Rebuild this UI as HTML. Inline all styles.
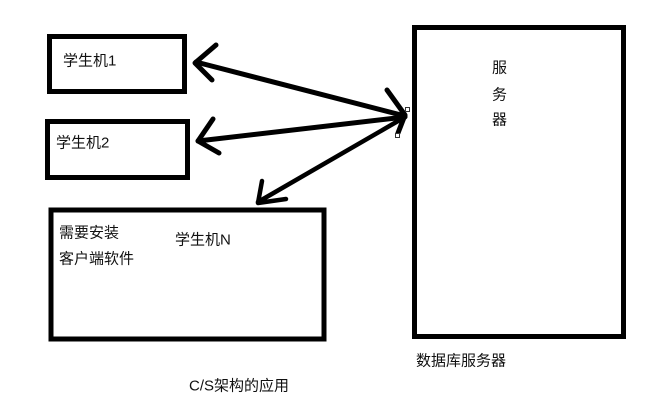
<!DOCTYPE html>
<html lang="zh">
<head>
<meta charset="utf-8">
<title>C/S架构的应用</title>
<style>
html,body{margin:0;padding:0;background:#fff;width:658px;height:408px;overflow:hidden}
svg{display:block}
text{font-family:"Liberation Sans","Noto Sans CJK SC",sans-serif;font-size:15px;fill:#111;dominant-baseline:central}
</style>
</head>
<body>
<svg width="658" height="408" viewBox="0 0 658 408" xmlns="http://www.w3.org/2000/svg">
<rect width="658" height="408" fill="#fff"/>
<g fill="none" stroke="#000" stroke-width="5">
<rect x="49.5" y="36.5" width="135" height="55"/>
<rect x="47.5" y="121.5" width="140" height="56"/>
<rect x="51" y="210" width="273" height="129" />
<rect x="414.5" y="27.5" width="209" height="309"/>
</g>
<g fill="none" stroke="#000" stroke-linecap="round" stroke-linejoin="round">
<g stroke-width="5">
<line x1="196" y1="62" x2="405" y2="116"/>
<polyline points="216,45 195,63 212,80"/>
<line x1="198" y1="141" x2="405" y2="117"/>
<polyline points="213,119 198,141 219,153"/>
<polyline points="387,90 405,115 398,133"/>
</g>
<g stroke-width="4.5">
<line x1="405" y1="117" x2="258" y2="202"/>
<polyline points="262,181 258,203 286,199"/>
</g>
</g>
<g fill="#fff" stroke="#333" stroke-width="1">
<rect x="405.5" y="107.5" width="4" height="4"/>
<rect x="395.5" y="133.5" width="4" height="4"/>
</g>
<text x="63" y="61">学生机1</text>
<text x="56" y="143">学生机2</text>
<text x="59" y="233">需要安装</text>
<text x="59" y="259">客户端软件</text>
<text x="175" y="240">学生机N</text>
<text x="492" y="68">服</text>
<text x="492" y="95">务</text>
<text x="492" y="120">器</text>
<text x="416" y="361">数据库服务器</text>
<text x="189" y="386">C/S架构的应用</text>
</svg>
</body>
</html>
